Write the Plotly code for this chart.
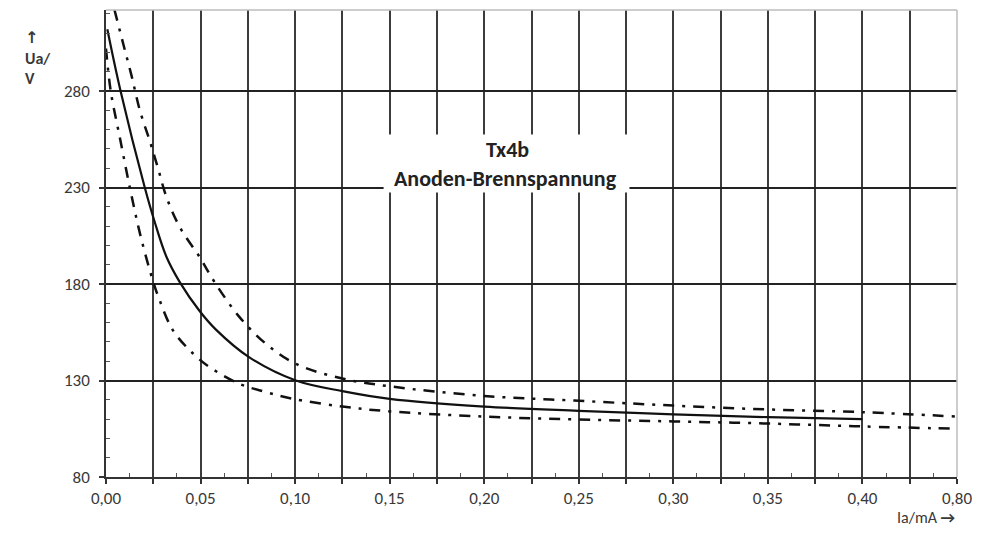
import plotly.graph_objects as go

# Axis positions (display units; last tick position carries the label 0,80)
x_tick_vals = [0.0, 0.025, 0.05, 0.075, 0.10, 0.125, 0.15, 0.175, 0.20, 0.225,
               0.25, 0.275, 0.30, 0.325, 0.35, 0.375, 0.40, 0.425, 0.45]
x_tick_text = ["0,00", "", "0,05", "", "0,10", "", "0,15", "", "0,20", "",
               "0,25", "", "0,30", "", "0,35", "", "0,40", "", "0,80"]
y_tick_vals = [80, 130, 180, 230, 280]

# Solid curve (Anoden-Brennspannung, typical)
ia_mid = [0.0007, 0.0077, 0.0205, 0.0258, 0.032, 0.039, 0.0495,
          0.058, 0.0758, 0.1004, 0.125, 0.15, 0.20, 0.25, 0.30, 0.35, 0.40]
ua_mid = [312, 280, 230, 212, 194, 181, 166,
          156.5, 142, 130, 124.5, 120.5, 116.5, 114.3, 112.5, 111, 110]

# Upper dash-dot curve
ia_up = [0.0045, 0.0091, 0.0135, 0.0179, 0.0232, 0.0275, 0.032, 0.039, 0.0495,
         0.0574, 0.0705, 0.0846, 0.1004, 0.125, 0.15, 0.20, 0.25, 0.30, 0.35,
         0.40, 0.45]
ua_up = [322, 304.5, 288, 270, 254, 240, 225, 209.5, 194,
         181, 163, 149, 138.6, 131, 127, 122, 119.5, 117, 115,
         113.6, 111.3]

# Lower dash-dot curve
ia_lo = [0.0, 0.0025, 0.0075, 0.0126, 0.018, 0.0247, 0.0284, 0.0354, 0.046,
         0.0547, 0.0705, 0.0846, 0.098, 0.125, 0.15, 0.20, 0.25, 0.30, 0.35,
         0.40, 0.45]
ua_lo = [302, 280, 255, 230, 206, 182, 171.5, 156, 144,
         137, 128.3, 124, 120.7, 116.5, 114, 111.3, 109.8, 108.8, 107.7,
         106.2, 105]

FONT = "Carlito, Lato, sans-serif"
DASHDOT = "11px,8px,3px,8px"

fig = go.Figure()
fig.add_trace(go.Scatter(x=ia_up, y=ua_up, mode="lines",
                         line=dict(color="#111", width=2.5, dash=DASHDOT, shape="spline", smoothing=1.0),
                         hoverinfo="skip", showlegend=False))
fig.add_trace(go.Scatter(x=ia_lo, y=ua_lo, mode="lines",
                         line=dict(color="#111", width=2.5, dash=DASHDOT, shape="spline", smoothing=1.0),
                         hoverinfo="skip", showlegend=False))
fig.add_trace(go.Scatter(x=ia_mid, y=ua_mid, mode="lines",
                         line=dict(color="#111", width=2.2, shape="spline", smoothing=1.0),
                         hoverinfo="skip", showlegend=False))

minor_x = [0.0125 + 0.025 * i for i in range(18)]
minor_y = [v for v in range(90, 322, 10) if v % 50 != 30]

fig.update_layout(
    width=982, height=540,
    margin=dict(l=106, r=21, t=10, b=63),
    paper_bgcolor="white", plot_bgcolor="white",
    font=dict(family=FONT, size=17, color="#383838"),
    xaxis=dict(range=[0, 0.45], tickmode="array", tickvals=x_tick_vals, ticktext=x_tick_text,
               showgrid=True, gridcolor="#3c3c3c", gridwidth=1.5,
               showline=True, linecolor="#333", linewidth=1.5,
               ticks="outside", ticklen=5, tickcolor="#333", tickwidth=1.5,
               ticklabelstandoff=0,
               minor=dict(tickmode="array", tickvals=minor_x, ticks="inside", ticklen=4,
                          tickcolor="#555", tickwidth=1, showgrid=False),
               zeroline=False, fixedrange=True),
    yaxis=dict(range=[80, 322], tickmode="array", tickvals=y_tick_vals,
               showgrid=True, gridcolor="#222", gridwidth=1.5,
               showline=True, linecolor="#333", linewidth=1.5,
               ticks="outside", ticklen=5, tickcolor="#333", tickwidth=1.5,
               ticklabelstandoff=6,
               minor=dict(tickmode="array", tickvals=minor_y, ticks="inside", ticklen=4,
                          tickcolor="#555", tickwidth=1, showgrid=False),
               zeroline=False, fixedrange=True),
    shapes=[
        dict(type="line", xref="paper", yref="paper", x0=0, x1=1, y0=1, y1=1,
             line=dict(color="#bdbdbd", width=1.5)),
        dict(type="line", xref="paper", yref="paper", x0=1, x1=1, y0=0, y1=1,
             line=dict(color="#bdbdbd", width=1.5)),
        dict(type="rect", xref="x", yref="y", x0=0.1468, x1=0.2768, y0=227.4, y1=257.5,
             fillcolor="white", line=dict(width=0), layer="above"),
    ],
    annotations=[
        dict(text="<b>Tx4b</b>", x=0.2121, y=249.5, xref="x", yref="y", showarrow=False,
             font=dict(family=FONT, size=22, color="#222")),
        dict(text="<b>Anoden-Brennspannung</b>", x=0.2110, y=234.7, xref="x", yref="y",
             showarrow=False, font=dict(family=FONT, size=22, color="#222")),
        dict(text="<b>↑</b>", x=23, y=540 - 26, xref="paper", yref="paper", showarrow=False,
             font=dict(family="DejaVu Sans", size=16, color="#383838")),
        dict(text="<b>Ua/</b>", x=23, y=540 - 47, xref="paper", yref="paper", showarrow=False,
             font=dict(family=FONT, size=16, color="#383838")),
        dict(text="<b>V</b>", x=23, y=540 - 67, xref="paper", yref="paper", showarrow=False,
             font=dict(family=FONT, size=16, color="#383838")),
        dict(text="Ia/mA <b>→</b>", x=962, y=540 - 529, xref="paper", yref="paper", showarrow=False,
             xanchor="right", font=dict(family=FONT, size=16, color="#383838")),
    ],
)

# convert pixel-positioned annotations into paper fractions
pw, ph = 982 - 106 - 21, 540 - 10 - 63
for a in fig.layout.annotations:
    if a.xref == "paper":
        a.x = (a.x - 106) / pw
        a.y = (a.y - 63) / ph

fig.write_html("out.html")
